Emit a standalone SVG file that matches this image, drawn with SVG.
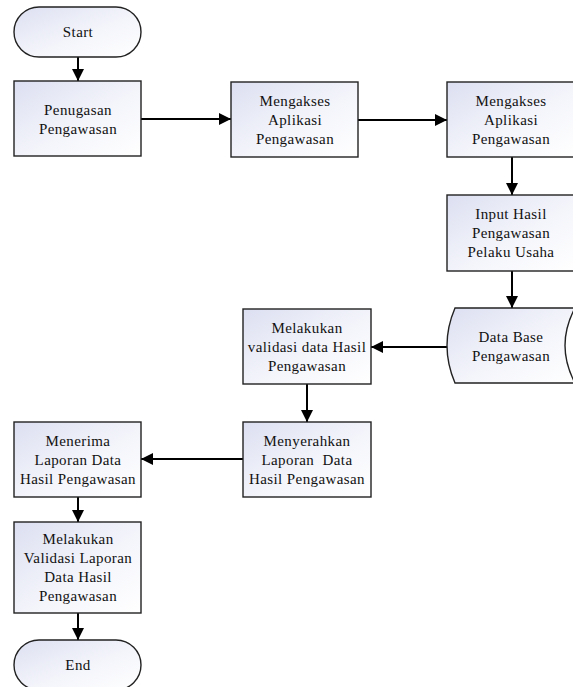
<svg xmlns="http://www.w3.org/2000/svg" width="573" height="687" viewBox="0 0 573 687">
  <defs>
    <linearGradient id="fillGrad" x1="0" y1="0" x2="1" y2="1">
      <stop offset="0" stop-color="#dcdff1"/>
      <stop offset="0.55" stop-color="#f4f5fb"/>
      <stop offset="1" stop-color="#ffffff"/>
    </linearGradient>
    <marker id="arrow" viewBox="0 0 12 12" refX="12" refY="6" markerWidth="12" markerHeight="12" markerUnits="userSpaceOnUse" orient="auto">
      <path d="M0,0 L12,6 L0,12 Z" fill="#000"/>
    </marker>
  </defs>
  <style>
    .shape { fill: url(#fillGrad); stroke: #222; stroke-width: 1.4; }
    .label { font-family: "Liberation Serif", "Times New Roman", serif; font-size: 15px; letter-spacing: 0.4px; fill: #111; text-anchor: middle; }
    .edge { stroke: #000; stroke-width: 2; fill: none; marker-end: url(#arrow); }
  </style>
  <rect width="573" height="687" fill="#fff"/>

  <g id="connectors">
    <line class="edge" x1="78" y1="57" x2="78" y2="81"/>
    <line class="edge" x1="141" y1="119" x2="231" y2="119"/>
    <line class="edge" x1="358" y1="120" x2="447" y2="120"/>
    <line class="edge" x1="512" y1="157" x2="512" y2="195"/>
    <line class="edge" x1="512" y1="271" x2="512" y2="308"/>
    <line class="edge" x1="447" y1="347" x2="371" y2="347"/>
    <line class="edge" x1="307" y1="384" x2="307" y2="422"/>
    <line class="edge" x1="243" y1="459" x2="141" y2="459"/>
    <line class="edge" x1="78" y1="497" x2="78" y2="522"/>
    <line class="edge" x1="78" y1="613" x2="78" y2="640"/>
  </g>

  <g id="start">
    <rect class="shape" x="14" y="7" width="127" height="50" rx="25" ry="25"/>
    <text class="label" x="78" y="37">Start</text>
  </g>

  <g id="penugasan">
    <rect class="shape" x="14" y="81" width="127" height="75"/>
    <text class="label" x="78" y="114.5">Penugasan</text>
    <text class="label" x="78" y="133.5">Pengawasan</text>
  </g>

  <g id="mengakses1">
    <rect class="shape" x="231" y="82" width="127" height="75"/>
    <text class="label" x="295" y="105.5">Mengakses</text>
    <text class="label" x="295" y="124.5">Aplikasi</text>
    <text class="label" x="295" y="143.5">Pengawasan</text>
  </g>

  <g id="mengakses2">
    <rect class="shape" x="447" y="82" width="127" height="75"/>
    <text class="label" x="511" y="105.5">Mengakses</text>
    <text class="label" x="511" y="124.5">Aplikasi</text>
    <text class="label" x="511" y="143.5">Pengawasan</text>
  </g>

  <g id="input-hasil">
    <rect class="shape" x="447" y="195" width="127" height="76"/>
    <text class="label" x="511" y="218.5">Input Hasil</text>
    <text class="label" x="511" y="237.5">Pengawasan</text>
    <text class="label" x="511" y="256.5">Pelaku Usaha</text>
  </g>

  <g id="database">
    <path class="shape" d="M455,308 H575 Q555,345.5 575,383 H455 Q439,345.5 455,308 Z"/>
    <text class="label" x="511" y="341.5">Data Base</text>
    <text class="label" x="511" y="360.5">Pengawasan</text>
  </g>

  <g id="validasi-data">
    <rect class="shape" x="243" y="309" width="128" height="75"/>
    <text class="label" x="307" y="332.5">Melakukan</text>
    <text class="label" x="307" y="351.5">validasi data Hasil</text>
    <text class="label" x="307" y="370.5">Pengawasan</text>
  </g>

  <g id="menyerahkan">
    <rect class="shape" x="243" y="422" width="128" height="75"/>
    <text class="label" x="307" y="445.5">Menyerahkan</text>
    <text class="label" x="307" y="464.5" xml:space="preserve">Laporan  Data</text>
    <text class="label" x="307" y="483.5">Hasil Pengawasan</text>
  </g>

  <g id="menerima">
    <rect class="shape" x="14" y="422" width="127" height="75"/>
    <text class="label" x="78" y="445.5">Menerima</text>
    <text class="label" x="78" y="464.5">Laporan Data</text>
    <text class="label" x="78" y="483.5">Hasil Pengawasan</text>
  </g>

  <g id="validasi-laporan">
    <rect class="shape" x="14" y="522" width="127" height="91"/>
    <text class="label" x="78" y="544">Melakukan</text>
    <text class="label" x="78" y="563">Validasi Laporan</text>
    <text class="label" x="78" y="582">Data Hasil</text>
    <text class="label" x="78" y="601">Pengawasan</text>
  </g>

  <g id="end">
    <rect class="shape" x="14" y="640" width="127" height="50" rx="25" ry="25"/>
    <text class="label" x="78" y="670">End</text>
  </g>
</svg>
